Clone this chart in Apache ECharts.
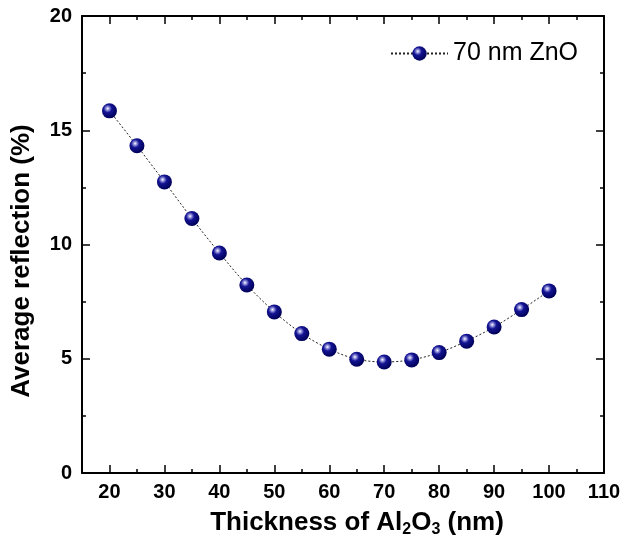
<!DOCTYPE html>
<html>
<head>
<meta charset="utf-8">
<script src="https://cdn.jsdelivr.net/npm/echarts@6/dist/echarts.min.js"></script>
<style>
  html, body { margin: 0; padding: 0; background: #fff; }
  #chart { width: 626px; height: 543px; }
</style>
</head>
<body>
<div id="chart"></div>
<script>
// ================= data =================
const thickness = [20, 25, 30, 35, 40, 45, 50, 55, 60, 65, 70, 75, 80, 85, 90, 95, 100]
const reflection = [15.85, 14.32, 12.74, 11.14, 9.63, 8.23, 7.05, 6.10, 5.42, 4.98, 4.86, 4.95, 5.27, 5.77, 6.39, 7.15, 7.97]
const seriesName = '70 nm ZnO'

const xMajorTicks = [20, 30, 40, 50, 60, 70, 80, 90, 100, 110]
const xMinorTicks = [25, 35, 45, 55, 65, 75, 85, 95, 105]
const yMajorTicks = [0, 5, 10, 15, 20]
const yMinorTicks = [2.5, 7.5, 12.5, 17.5]

const font = '"Liberation Sans", Arial, sans-serif'

const chart = echarts.init(document.getElementById('chart'))

// one axis per tick size and side, all on the same grid
const makeAxis = (dim, position, ticks, len, withLabels, showLine) => ({
  type: 'value',
  position,
  min: dim === 'x' ? 15 : 0,
  max: dim === 'x' ? 110 : 20,
  splitLine: { show: false },
  axisLine: { show: showLine, onZero: false, lineStyle: { color: '#000', width: 2 } },
  axisTick: {
    show: true,
    inside: true,
    length: len,
    customValues: ticks,
    lineStyle: { color: '#000', width: 1.5 }
  },
  axisLabel: withLabels
    ? {
        show: true,
        customValues: ticks,
        margin: dim === 'x' ? 9 : 10,
        color: '#000',
        fontSize: 20,
        fontWeight: 'bold',
        fontFamily: font
      }
    : { show: false }
})

const option = {
  animation: false,
  grid: { left: 82, top: 16, right: 22, bottom: 70, containLabel: false },
  legend: {
    left: 390,
    top: 41,
    padding: 0,
    itemWidth: 57,
    itemHeight: 18,
    textStyle: { fontSize: 25, color: '#000', fontFamily: font },
    data: [seriesName]
  },
  xAxis: [
    makeAxis('x', 'bottom', xMajorTicks, 8, true, true),
    makeAxis('x', 'bottom', xMinorTicks, 4, false, false),
    makeAxis('x', 'top', xMajorTicks, 8, false, true),
    makeAxis('x', 'top', xMinorTicks, 4, false, false)
  ],
  yAxis: [
    makeAxis('y', 'left', yMajorTicks, 8, true, true),
    makeAxis('y', 'left', yMinorTicks, 4, false, false),
    makeAxis('y', 'right', yMajorTicks, 8, false, true),
    makeAxis('y', 'right', yMinorTicks, 4, false, false)
  ],
  graphic: [
    {
      type: 'text',
      x: 22,
      y: 261,
      rotation: Math.PI / 2,
      style: {
        text: 'Average reflection (%)',
        fontSize: 26,
        fontWeight: 'bold',
        fontFamily: font,
        fill: '#000',
        align: 'center',
        verticalAlign: 'middle'
      }
    },
    {
      type: 'text',
      x: 357,
      y: 523,
      style: {
        text: '{a|Thickness of Al}{s|2}{a|O}{s|3}{a| (nm)}',
        align: 'center',
        verticalAlign: 'middle',
        rich: {
          a: { fontSize: 26, fontWeight: 'bold', fontFamily: font, fill: '#000', lineHeight: 30 },
          s: { fontSize: 16, fontWeight: 'bold', fontFamily: font, fill: '#000', lineHeight: 6, verticalAlign: 'bottom' }
        }
      }
    }
  ],
  series: [
    {
      name: seriesName,
      type: 'line',
      xAxisIndex: 0,
      yAxisIndex: 0,
      smooth: 0.3,
      symbol: 'circle',
      symbolSize: 15,
      lineStyle: { color: '#222', width: 1, type: [2, 2] },
      itemStyle: {
        color: {
          type: 'radial',
          x: 0.38,
          y: 0.35,
          r: 0.65,
          colorStops: [
            { offset: 0, color: '#ffffff' },
            { offset: 0.16, color: '#9a9ae0' },
            { offset: 0.42, color: '#141494' },
            { offset: 1, color: '#000058' }
          ]
        }
      },
      data: thickness.map((t, i) => [t, reflection[i]])
    }
  ]
}

chart.setOption(option)
</script>
</body>
</html>
